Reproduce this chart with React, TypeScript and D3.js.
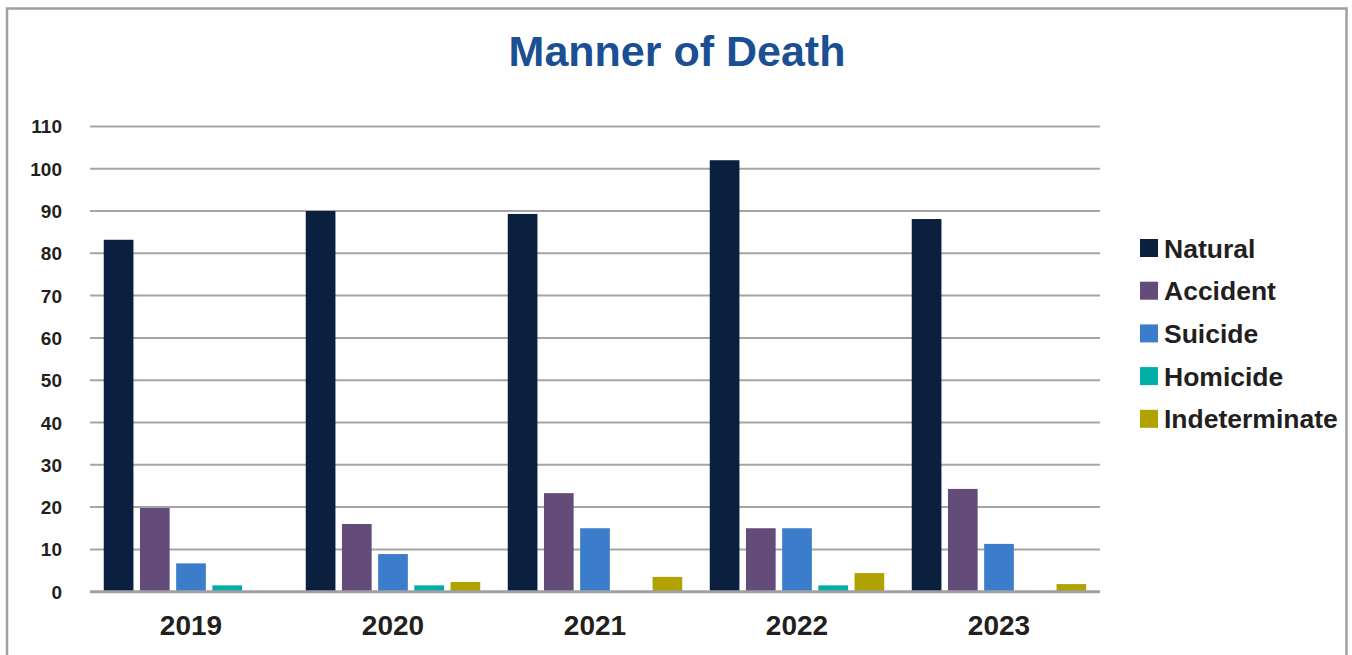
import React from "react";
import * as d3 from "d3";

const years = ["2019", "2020", "2021", "2022", "2023"];
const seriesNames = ["Natural", "Accident", "Suicide", "Homicide", "Indeterminate"];
const natural = [83.2, 90, 89.3, 102, 88.1];
const accident = [19.8, 16, 23.3, 15, 24.3];
const suicide = [6.7, 8.9, 15, 15, 11.3];
const homicide = [1.5, 1.5, 0, 1.5, 0];
const indeterminate = [0, 2.3, 3.5, 4.4, 1.8];
const yTicks = [0, 10, 20, 30, 40, 50, 60, 70, 80, 90, 100, 110];
const colors = ["#0B1F3F", "#634B7A", "#3C7DCB", "#00ADA7", "#B0A200"];

const seriesValues = [natural, accident, suicide, homicide, indeterminate];

const W = 1352;
const H = 655;
const FONT = "'Liberation Sans', Arial, sans-serif";

export default function App() {
  const x0 = d3.scaleBand<string>().domain(years).range([90, 1100]).padding(0);
  const x1 = d3
    .scaleBand<string>()
    .domain(seriesNames)
    .range([0, x0.bandwidth()])
    .paddingInner(0.18)
    .paddingOuter(0.38);
  const y = d3.scaleLinear().domain([0, 110]).range([591.7, 126.4]);

  return (
    <svg
      width={W}
      height={H}
      style={{ position: "absolute", left: 0, top: 0, background: "#fff" }}
    >
      <rect x={0} y={0} width={W} height={H} fill="#fff" />
      <rect
        x={7}
        y={8.5}
        width={1339.5}
        height={700}
        fill="none"
        stroke="#A0A0A0"
        strokeWidth={2.5}
      />
      <text
        x={677}
        y={65.5}
        textAnchor="middle"
        fontFamily={FONT}
        fontWeight="bold"
        fontSize={43}
        fill="#1B4F93"
      >
        Manner of Death
      </text>
      {yTicks
        .filter((t) => t > 0)
        .map((t) => (
          <line
            key={"g" + t}
            x1={90}
            x2={1100}
            y1={y(t)}
            y2={y(t)}
            stroke="#A5A5A8"
            strokeWidth={2}
          />
        ))}
      {yTicks.map((t) => (
        <text
          key={"t" + t}
          x={62}
          y={y(t) + 7}
          textAnchor="end"
          fontFamily={FONT}
          fontWeight="bold"
          fontSize={19}
          fill="#231F20"
        >
          {t}
        </text>
      ))}
      {years.map((yr, i) => (
        <g key={yr} transform={`translate(${x0(yr)},0)`}>
          {seriesNames.map((s, j) => {
            const v = seriesValues[j][i];
            if (!v) return null;
            return (
              <rect
                key={s}
                x={x1(s)}
                y={y(v)}
                width={x1.bandwidth()}
                height={y(0) - y(v)}
                fill={colors[j]}
              />
            );
          })}
        </g>
      ))}
      <line
        x1={90}
        x2={1100}
        y1={y(0)}
        y2={y(0)}
        stroke="#A0A0A3"
        strokeWidth={3}
      />
      {years.map((yr) => (
        <text
          key={"x" + yr}
          x={(x0(yr) as number) + x0.bandwidth() / 2}
          y={635}
          textAnchor="middle"
          fontFamily={FONT}
          fontWeight="bold"
          fontSize={28}
          fill="#231F20"
        >
          {yr}
        </text>
      ))}
      {seriesNames.map((s, j) => {
        const cy = 248 + j * 42.7;
        return (
          <g key={"l" + s}>
            <rect x={1140} y={cy - 9} width={18} height={18} fill={colors[j]} />
            <text
              x={1164}
              y={cy + 9.5}
              fontFamily={FONT}
              fontWeight="bold"
              fontSize={26.5}
              fill="#231F20"
            >
              {s}
            </text>
          </g>
        );
      })}
    </svg>
  );
}
